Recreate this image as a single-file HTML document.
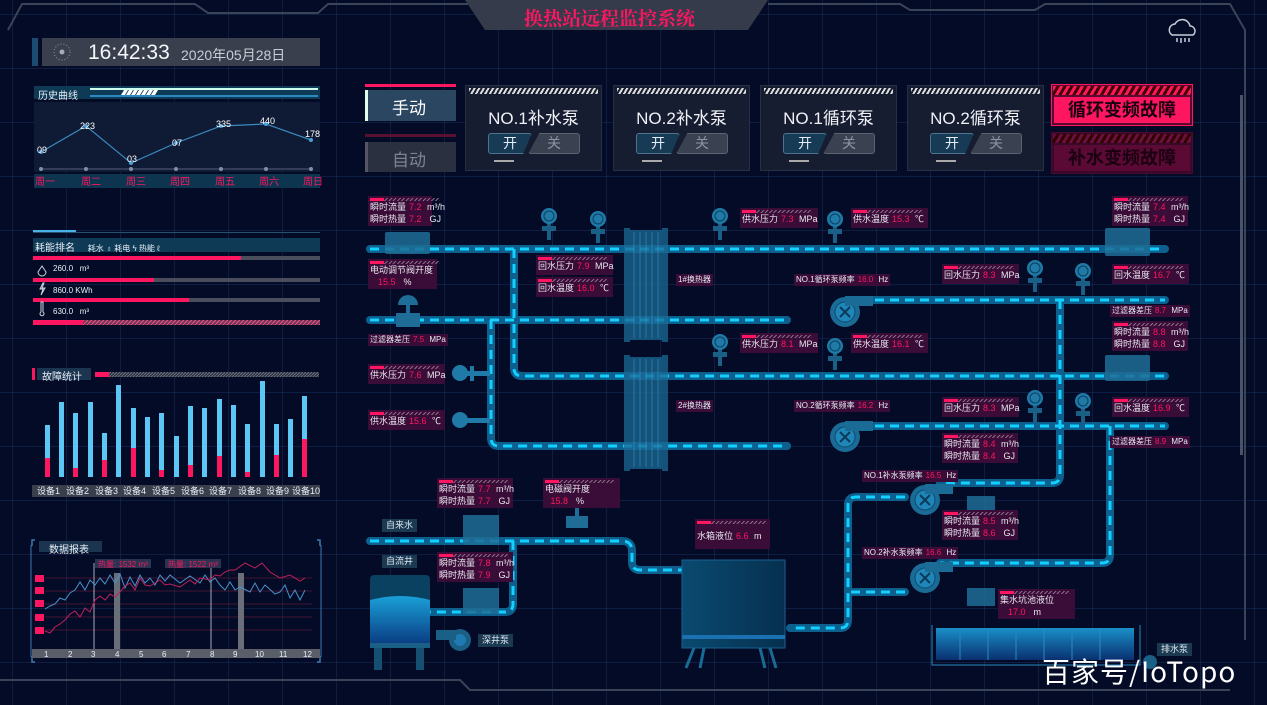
<!DOCTYPE html>
<html><head><meta charset="utf-8"><style>
*{margin:0;padding:0;box-sizing:border-box}
body{width:1267px;height:705px;overflow:hidden;background:#030b26;font-family:"Liberation Sans","Noto Sans CJK SC",sans-serif;color:#e6ecf5;position:relative}
.grid{position:absolute;inset:0;background-image:linear-gradient(rgba(40,80,140,.28) 1px,transparent 1px),linear-gradient(90deg,rgba(40,80,140,.28) 1px,transparent 1px);background-size:54px 54px;background-position:12px 14px}
svg{position:absolute;left:0;top:0}
.lb{position:absolute;background:#3a0c38;font-size:9px;line-height:12px;padding:5px 2px 0 2px;white-space:nowrap;color:#e8e8f0}
.lb:before{content:"";position:absolute;left:2px;top:2px;width:70px;height:3px;background:repeating-linear-gradient(135deg,#8a6a86 0 1px,transparent 1px 3px)}
.lb:after{content:"";position:absolute;left:2px;top:2px;width:14px;height:3px;background:#ff1660}
.lb b{color:#ff1660;font-weight:normal;margin:0 3px}
.nb{position:absolute;background:#3a0c38;font-size:8px;line-height:12px;padding:0 2px;white-space:nowrap}
.nb b{color:#ff1660;font-weight:normal;margin:0 3px}
.tag{position:absolute;background:#1b3a52;font-size:9px;line-height:13px;padding:0 4px;color:#dfe8f0}
.card{position:absolute;top:85px;width:137px;height:86px;background:#161d31;border:1px solid #262f44}
.card .st{position:absolute;left:3px;top:2px;right:3px;height:6px;background:repeating-linear-gradient(120deg,#ddd 0 2px,transparent 2px 4px)}
.card .nm{position:absolute;top:18px;width:100%;text-align:center;font-size:17px;color:#f0f0f5}
.card .on{position:absolute;left:22px;top:47px;width:44px;height:21px;background:#173a55;border:1px solid #4d7390;border-radius:3px;font-size:14px;text-align:center;line-height:19px;clip-path:polygon(0 0,100% 0,80% 100%,0 100%)}
.card .off{position:absolute;left:62px;top:47px;width:52px;height:21px;background:#3a4252;border:1px solid #5a6272;border-radius:3px;font-size:14px;text-align:center;line-height:19px;color:#8d95a5;clip-path:polygon(22% 0,100% 0,100% 100%,0 100%)}
.card .ul{position:absolute;left:28px;top:74px;width:20px;height:2px;background:#aaa}
.hd{position:absolute;font-size:10px;color:#e8eef5}
</style></head><body>
<div class="grid"></div>
<svg width="1267" height="705" viewBox="0 0 1267 705">
<defs>
<linearGradient id="tank" x1="0" y1="0" x2="1" y2="0"><stop offset="0" stop-color="#0a4a70"/><stop offset="1" stop-color="#063050"/></linearGradient>
<linearGradient id="lt" x1="0" y1="0" x2="0" y2="1"><stop offset="0" stop-color="#1aa0d8"/><stop offset="1" stop-color="#0a3a80"/></linearGradient>
<linearGradient id="sump" x1="0" y1="0" x2="0" y2="1"><stop offset="0" stop-color="#1a8fc8"/><stop offset="1" stop-color="#0a3070"/></linearGradient>
<pattern id="hatch" width="4" height="4" patternUnits="userSpaceOnUse"><rect width="4" height="4" fill="#6a3a58"/><path d="M0 4L4 0" stroke="#ff4a80"/></pattern>
<pattern id="hatch2" width="3" height="3" patternUnits="userSpaceOnUse"><rect width="3" height="3" fill="#2a3040"/><path d="M0 3L3 0" stroke="#6a7080"/></pattern>
<g id="gauge"><rect x="-2" y="0" width="4" height="24" fill="#1a5f85"/><rect x="-7" y="10" width="14" height="5" fill="#1a5f85"/><circle r="8" fill="#1f7aa8"/><circle r="5" fill="none" stroke="#0d3f60" stroke-width="1"/></g>
<g id="pump"><circle r="15" fill="#1a6b96"/><circle r="10" fill="#1e86b8" stroke="#0e4a70"/><path d="M-5 -5L5 5M5 -5L-5 5" stroke="#0c3a58" stroke-width="2"/><rect x="0" y="-16" width="28" height="10" fill="#1a6b96"/></g>
</defs>
<g fill="none" stroke="#3a4458" stroke-width="2">
<path d="M8 30 L22 4 L195 4 L208 13 L318 13 L328 4 L468 4"/>
<path d="M768 4 L900 4 L910 10 L1035 10 L1045 4 L1230 4 L1245 30 L1245 640"/>
<path d="M0 680 L460 680 L470 690 L1230 690"/>
</g>
<path d="M465 0 L768 0 L748 30 L485 30 Z" fill="#363b4c"/>
<rect x="1240" y="95" width="3" height="360" fill="#4a5468"/>
<g fill="none" stroke="#c8d0dc" stroke-width="1.5"><path d="M1172 35 a6 6 0 0 1 3 -11 a8 8 0 0 1 15 2 a5 5 0 0 1 3 9 Z"/><path d="M1177 38v4M1181 38v5M1185 38v4M1189 38v4"/></g>
<rect x="32" y="38" width="6" height="28" fill="#1b4a72"/>
<rect x="42" y="38" width="278" height="28" fill="#3a3f4e"/>
<circle cx="62" cy="52" r="8" fill="none" stroke="#8a92a0" stroke-dasharray="1 2"/><circle cx="62" cy="52" r="2.5" fill="#aab"/>
<rect x="34" y="86" width="286" height="13" fill="#0e3a56"/>
<rect x="90" y="88" width="228" height="2" fill="#cfe"/><rect x="90" y="95" width="228" height="2" fill="#2a8ac0"/>
<path d="M124 90h4l-3 5h-4zM129 90h4l-3 5h-4zM134 90h4l-3 5h-4zM139 90h4l-3 5h-4zM144 90h4l-3 5h-4zM149 90h4l-3 5h-4zM154 90h4l-3 5h-4z" fill="#fff"/>
<rect x="34" y="102" width="286" height="70" fill="#0f1a34"/>
<line x1="41" y1="169" x2="311" y2="169" stroke="#55607a" stroke-width="1"/>
<g fill="#8090a8"><circle cx="41" cy="169" r="2"/><circle cx="86" cy="169" r="2"/><circle cx="131" cy="169" r="2"/><circle cx="176" cy="169" r="2"/><circle cx="221" cy="169" r="2"/><circle cx="266" cy="169" r="2"/><circle cx="311" cy="169" r="2"/></g>
<polyline points="41,152 86,126 131,163 176,143 221,126 266,124 311,140" fill="none" stroke="#3a8ac0" stroke-width="1.2"/>
<g fill="#4aa0d8"><circle cx="41" cy="152" r="2"/><circle cx="86" cy="126" r="2"/><circle cx="131" cy="163" r="2"/><circle cx="176" cy="143" r="2"/><circle cx="221" cy="126" r="2"/><circle cx="266" cy="124" r="2"/><circle cx="311" cy="140" r="2"/></g>
<g fill="#fff" font-size="9" font-family="Liberation Sans"><text x="37" y="153">09</text><text x="80" y="129">223</text><text x="127" y="162">03</text><text x="172" y="146">07</text><text x="216" y="127">335</text><text x="260" y="124">440</text><text x="305" y="137">178</text></g>
<rect x="34" y="174" width="286" height="14" fill="#0e3550"/>
<g fill="#ff1660" font-size="10"><text x="35" y="185">周一</text><text x="81" y="185">周二</text><text x="126" y="185">周三</text><text x="170" y="185">周四</text><text x="215" y="185">周五</text><text x="259" y="185">周六</text><text x="303" y="185">周日</text></g>
<rect x="33" y="230" width="43" height="3" fill="#4ab0e8"/><rect x="33" y="232" width="287" height="1" fill="#26506e"/>
<rect x="33" y="238" width="287" height="14" fill="#0e3a56"/>
<rect x="33" y="256" width="287" height="4" fill="#4a4e5c"/><rect x="33" y="256" width="208" height="4" fill="#ff1660"/>
<rect x="33" y="278" width="287" height="4" fill="#4a4e5c"/><rect x="33" y="278" width="121" height="4" fill="#ff1660"/>
<rect x="33" y="298" width="287" height="4" fill="#4a4e5c"/><rect x="33" y="298" width="156" height="4" fill="#ff1660"/>
<rect x="33" y="320" width="287" height="5" fill="url(#hatch)"/>
<rect x="33" y="320" width="50" height="5" fill="#ff1660"/>
<g fill="none" stroke="#cfd6e0"><path d="M42 266 l-4 6 a4 4 0 0 0 8 0 z"/><path d="M43 283l-3 6h3l-2 6 4-7h-3l2-5z"/><path d="M41 302v10a2 2 0 1 0 2 0v-10z"/></g>
<rect x="32" y="368" width="3" height="12" fill="#ff1660"/><rect x="37" y="368" width="54" height="12" fill="#1b3450"/>
<rect x="95" y="372" width="14" height="5" fill="#ff1660"/><rect x="109" y="372" width="210" height="5" fill="url(#hatch2)"/>
<rect x="32" y="485" width="288" height="12" fill="#3a3f4e"/>
<g fill="#e8eef5" font-size="9"><text x="37" y="494">设备1</text><text x="66" y="494">设备2</text><text x="95" y="494">设备3</text><text x="123" y="494">设备4</text><text x="152" y="494">设备5</text><text x="181" y="494">设备6</text><text x="209" y="494">设备7</text><text x="238" y="494">设备8</text><text x="266" y="494">设备9</text><text x="292" y="494">设备10</text></g>
<path d="M32 546v-6h3M32 656v6h3M320 546v-6h-3M320 656v6h-3" fill="none" stroke="#3a7ab0" stroke-width="1.5"/>
<line x1="31" y1="545" x2="31" y2="657" stroke="#3a7ab0"/><line x1="321" y1="545" x2="321" y2="657" stroke="#3a7ab0"/>
<rect x="39" y="541" width="63" height="11" fill="#1b3450"/>
<g stroke="#5a1a3a" stroke-width=".8"><line x1="45" y1="578" x2="312" y2="578"/><line x1="45" y1="591" x2="312" y2="591"/><line x1="45" y1="604" x2="312" y2="604"/><line x1="45" y1="617" x2="312" y2="617"/><line x1="45" y1="630" x2="312" y2="630"/></g>
<g fill="#ff1660"><rect x="35" y="575" width="9" height="7"/><rect x="35" y="587" width="9" height="7"/><rect x="35" y="600" width="9" height="7"/><rect x="35" y="614" width="9" height="7"/><rect x="35" y="627" width="9" height="7"/></g>
<rect x="114" y="573" width="6" height="80" fill="#6a6e78"/><rect x="238" y="573" width="6" height="80" fill="#6a6e78"/>
<line x1="94" y1="563" x2="94" y2="650" stroke="#aab"/><line x1="211" y1="563" x2="211" y2="650" stroke="#aab"/>
<polyline fill="none" stroke="#4a90c8" stroke-width="1" points="45,609 50,606 55,604 60,598 65,600 70,593 75,590 80,582 85,590 90,580 95,585 100,578 105,584 110,575 115,583 120,574 125,588 130,577 135,586 140,575 145,583 150,578 155,585 160,575 165,581 170,575 180,583 190,576 200,583 205,575 210,582 215,578 220,585 225,590 230,582 235,590 240,587 250,592 255,583 260,592 265,585 275,594 280,592 285,585 290,598 295,590 300,600 305,590"/>
<polyline fill="none" stroke="#c0205a" stroke-width="1" points="45,631 50,633 55,627 60,624 65,620 70,614 75,611 80,617 85,608 90,612 95,600 100,596 105,600 110,594 115,597 120,592 125,586 130,583 135,590 140,578 145,585 150,586 155,583 160,580 165,585 170,584 180,587 190,580 195,584 200,578 210,580 215,575 220,576 225,572 230,570 235,570 245,563 255,568 262,563 270,572 280,578 290,575 300,581 305,578"/>
<rect x="32" y="649" width="288" height="9" fill="#5a5e68"/>
<g fill="#e8eef5" font-size="8"><text x="44" y="657">1</text><text x="68" y="657">2</text><text x="91" y="657">3</text><text x="115" y="657">4</text><text x="139" y="657">5</text><text x="162" y="657">6</text><text x="186" y="657">7</text><text x="210" y="657">8</text><text x="233" y="657">9</text><text x="255" y="657">10</text><text x="279" y="657">11</text><text x="303" y="657">12</text></g>
<rect x="95" y="559" width="56" height="9" fill="#2a3350"/><rect x="165" y="559" width="56" height="9" fill="#2a3350"/>
<g fill="#ff1660" font-size="8"><text x="98" y="567">热量: 1532 m³</text><text x="168" y="567">热量: 1522 m³</text></g>

<g fill="none" stroke="#0f6a9a" stroke-width="8" stroke-linecap="round" stroke-linejoin="round" opacity=".9">
<path d="M370 249H1165"/>
<path d="M370 320H787"/><path d="M860 300H1165"/>
<path d="M514 249V368q0 8 8 8H1165"/>
<path d="M491 320V438q0 8 8 8H787"/><path d="M860 426H1165"/>
<path d="M1060 300V475q0 8 -8 8H940"/>
<path d="M1110 426V555q0 8 -8 8H940"/>
<path d="M905 497H856q-8 0 -8 8V620q0 8 -8 8H790"/>
<path d="M905 592H848"/>
<path d="M370 541H622q10 0 10 10V562q0 8 8 8H682"/>
<path d="M513 541V604q0 8 -8 8H430"/>
</g>
<g fill="none" stroke="#12d0ff" stroke-width="3" stroke-dasharray="9 6">
<path d="M370 249H1165"/>
<path d="M370 320H787"/><path d="M860 300H1165"/>
<path d="M514 249V368q0 8 8 8H1165"/>
<path d="M491 320V438q0 8 8 8H787"/><path d="M860 426H1165"/>
<path d="M1060 300V475q0 8 -8 8H940"/>
<path d="M1110 426V555q0 8 -8 8H940"/>
<path d="M905 497H856q-8 0 -8 8V620q0 8 -8 8H790"/>
<path d="M905 592H848"/>
<path d="M370 541H622q10 0 10 10V562q0 8 8 8H682"/>
<path d="M513 541V604q0 8 -8 8H430"/>
</g>
<g fill="#1a6a96" opacity=".75">
<rect x="628" y="230" width="36" height="110"/><rect x="624" y="228" width="6" height="114"/><rect x="662" y="228" width="6" height="114"/>
<rect x="628" y="357" width="36" height="112"/><rect x="624" y="355" width="6" height="116"/><rect x="662" y="355" width="6" height="116"/>
</g>
<g stroke="#3fa0d0" stroke-width=".5" fill="none"><path d="M634 232V338M640 232V338M646 232V338M652 232V338M658 232V338M634 359V467M640 359V467M646 359V467M652 359V467M658 359V467"/></g>
<g fill="#1f6d96" opacity=".85">
<rect x="385" y="232" width="45" height="22" rx="2"/><rect x="1105" y="228" width="45" height="28" rx="2"/><rect x="1105" y="355" width="45" height="26" rx="2"/>
<rect x="463" y="515" width="36" height="30"/><rect x="463" y="588" width="36" height="26"/>
<rect x="967" y="496" width="28" height="22"/><rect x="967" y="588" width="28" height="18"/>
</g>
<use href="#gauge" x="549" y="216"/><use href="#gauge" x="598" y="219"/><use href="#gauge" x="720" y="216"/><use href="#gauge" x="835" y="219"/>
<use href="#gauge" x="1035" y="268"/><use href="#gauge" x="1083" y="271"/><use href="#gauge" x="720" y="342"/><use href="#gauge" x="835" y="346"/>
<use href="#gauge" x="1035" y="398"/><use href="#gauge" x="1083" y="401"/>
<g fill="#1f7aa8"><circle cx="460" cy="373" r="8"/><rect x="466" y="371" width="24" height="5"/><rect x="470" y="366" width="4" height="15"/><circle cx="460" cy="420" r="8"/><rect x="466" y="418" width="24" height="5"/></g>
<g fill="#1f6d96"><path d="M398 305a10 10 0 0 1 20 0z"/><rect x="406" y="305" width="4" height="8"/><rect x="396" y="313" width="24" height="14"/>
<path d="M568 508a9 9 0 0 1 18 0z"/><rect x="575" y="508" width="4" height="8"/><rect x="566" y="516" width="22" height="12"/></g>
<use href="#pump" x="845" y="312"/><use href="#pump" x="845" y="437"/><use href="#pump" x="925" y="500"/><use href="#pump" x="925" y="578"/>
<g><circle cx="460" cy="640" r="11" fill="#1a5f85"/><circle cx="460" cy="640" r="6" fill="#1e7ab0"/><rect x="436" y="630" width="20" height="10" fill="#1a5f85"/></g>
<rect x="370" y="575" width="60" height="70" rx="4" fill="#0a4060"/>
<path d="M370 600q30 -8 60 0v45h-60z" fill="url(#lt)"/>
<rect x="370" y="643" width="60" height="5" fill="#1a5f85"/><rect x="374" y="648" width="8" height="22" fill="#155072"/><rect x="416" y="648" width="8" height="22" fill="#155072"/>
<rect x="682" y="560" width="103" height="88" fill="url(#tank)" stroke="#1a6090"/>
<rect x="682" y="635" width="103" height="4" fill="#1a70b0"/>
<g stroke="#1a6a96" stroke-width="3" fill="none"><path d="M694 648l-8 20M704 648l-4 20M760 648l5 20M770 648l6 20"/></g>
<rect x="936" y="628" width="198" height="32" fill="url(#sump)"/>
<g stroke="#2a8ac0" fill="none"><path d="M932 625V665H1140V625M960 628V660M988 628V660M1016 628V660M1044 628V660M1072 628V660M1100 628V660"/></g>
<circle cx="1150" cy="662" r="7" fill="#1a5f85"/>
<g fill="#5cc6f4">
<rect x="45" y="425" width="5" height="52"/><rect x="59" y="402" width="5" height="75"/><rect x="73" y="413" width="5" height="64"/><rect x="88" y="402" width="5" height="75"/><rect x="102" y="433" width="5" height="44"/><rect x="116" y="385" width="5" height="92"/><rect x="131" y="408" width="5" height="69"/><rect x="145" y="417" width="5" height="60"/><rect x="159" y="413" width="5" height="64"/><rect x="174" y="436" width="5" height="41"/><rect x="188" y="406" width="5" height="71"/><rect x="202" y="408" width="5" height="69"/><rect x="217" y="399" width="5" height="78"/><rect x="231" y="405" width="5" height="72"/><rect x="245" y="424" width="5" height="53"/><rect x="260" y="381" width="5" height="96"/><rect x="274" y="424" width="5" height="53"/><rect x="288" y="419" width="5" height="58"/><rect x="302" y="396" width="5" height="81"/>
</g>
<g fill="#ff1660">
<rect x="45" y="458" width="5" height="19"/><rect x="73" y="468" width="5" height="9"/><rect x="102" y="460" width="5" height="17"/><rect x="131" y="448" width="5" height="29"/><rect x="159" y="470" width="5" height="7"/><rect x="188" y="465" width="5" height="12"/><rect x="217" y="456" width="5" height="21"/><rect x="245" y="472" width="5" height="5"/><rect x="274" y="455" width="5" height="22"/><rect x="302" y="439" width="5" height="38"/>
</g>
</svg>

<div style="position:absolute;left:88px;top:41px;font-size:21px;color:#f4f6fa">16:42:33</div>
<div style="position:absolute;left:181px;top:45px;font-size:14px;color:#c8ccd6">2020年05月28日</div>
<div class="hd" style="left:38px;top:87px">历史曲线</div>
<div class="hd" style="left:35px;top:239px;font-size:10px">耗能排名 <span style="font-size:8px;margin-left:10px">耗水 ♁ 耗电 ϟ 热能 ℓ</span></div>
<div class="hd" style="left:53px;top:264px;font-size:8px">260.0 &nbsp; m³</div>
<div class="hd" style="left:53px;top:286px;font-size:8px">860.0 KWh</div>
<div class="hd" style="left:53px;top:307px;font-size:8px">630.0 &nbsp; m³</div>
<div class="hd" style="left:42px;top:368px">故障统计</div>
<div class="hd" style="left:49px;top:541px">数据报表</div>
<div style="position:absolute;left:524px;top:4px;font-size:19px;font-weight:bold;color:#ff1660;font-family:'Liberation Serif','Noto Serif CJK SC',serif">换热站远程监控系统</div>

<div style="position:absolute;left:365px;top:84px;width:91px;height:3px;background:#ff1660"></div>
<div style="position:absolute;left:365px;top:90px;width:91px;height:31px;background:#2a4660;border-left:3px solid #dfe"></div>
<div style="position:absolute;left:392px;top:94px;font-size:17px;color:#fff">手动</div>
<div style="position:absolute;left:365px;top:134px;width:91px;height:3px;background:#5a1030"></div>
<div style="position:absolute;left:365px;top:142px;width:91px;height:30px;background:#2a3040;border-left:3px solid #556"></div>
<div style="position:absolute;left:392px;top:146px;font-size:17px;color:#7c8494">自动</div>

<div class="card" style="left:465px"><div class="st"></div><div class="nm">NO.1补水泵</div><div class="on">开</div><div class="off">关</div><div class="ul"></div></div>
<div class="card" style="left:613px"><div class="st"></div><div class="nm">NO.2补水泵</div><div class="on">开</div><div class="off">关</div><div class="ul"></div></div>
<div class="card" style="left:760px"><div class="st"></div><div class="nm">NO.1循环泵</div><div class="on">开</div><div class="off">关</div><div class="ul"></div></div>
<div class="card" style="left:907px"><div class="st"></div><div class="nm">NO.2循环泵</div><div class="on">开</div><div class="off">关</div><div class="ul"></div></div>

<div style="position:absolute;left:1051px;top:84px;width:142px;height:42px;background:#5a0a30;border:1px solid #ff1660"></div>
<div style="position:absolute;left:1053px;top:86px;width:138px;height:9px;background:repeating-linear-gradient(120deg,#ff1660 0 3px,#400 3px 6px)"></div>
<div style="position:absolute;left:1054px;top:97px;width:136px;height:26px;background:#ff1660;color:#1a0010;font-size:18px;font-weight:bold;text-align:center;line-height:26px">循环变频故障</div>
<div style="position:absolute;left:1051px;top:132px;width:142px;height:42px;background:#3a0828;border:1px solid #4a0a30"></div>
<div style="position:absolute;left:1053px;top:134px;width:138px;height:9px;background:repeating-linear-gradient(120deg,#6a1040 0 3px,#300 3px 6px)"></div>
<div style="position:absolute;left:1054px;top:145px;width:136px;height:26px;background:#5a0a34;color:#1a0010;font-size:18px;font-weight:bold;text-align:center;line-height:26px">补水变频故障</div>

<div class="lb" style="left:368px;top:196px;width:64px;height:30px">瞬时流量<b>7.2</b> m³/h<br>瞬时热量<b>7.2</b> &nbsp;GJ</div>
<div class="lb" style="left:368px;top:259px;width:69px;height:30px">电动调节阀开度<br>&nbsp;&nbsp;<b>15.5</b> &nbsp;%</div>
<div class="nb" style="left:368px;top:334px">过滤器差压<b>7.5</b> MPa</div>
<div class="lb" style="left:368px;top:364px;width:77px;height:20px">供水压力<b>7.6</b> MPa</div>
<div class="lb" style="left:368px;top:410px;width:77px;height:20px">供水温度<b>15.6</b> ℃</div>
<div class="lb" style="left:536px;top:255px;width:77px;height:20px">回水压力<b>7.9</b> MPa</div>
<div class="lb" style="left:536px;top:277px;width:77px;height:20px">回水温度<b>16.0</b> ℃</div>
<div class="nb" style="left:676px;top:274px">1#换热器</div>
<div class="lb" style="left:740px;top:208px;width:78px;height:20px">供水压力<b>7.3</b> MPa</div>
<div class="lb" style="left:851px;top:208px;width:77px;height:20px">供水温度<b>15.3</b> ℃</div>
<div class="lb" style="left:1112px;top:196px;width:76px;height:30px">瞬时流量<b>7.4</b> m³/h<br>瞬时热量<b>7.4</b> &nbsp;GJ</div>
<div class="nb" style="left:794px;top:274px">NO.1循环泵频率<b>16.0</b> Hz</div>
<div class="lb" style="left:942px;top:264px;width:77px;height:20px">回水压力<b>8.3</b> MPa</div>
<div class="lb" style="left:1112px;top:264px;width:77px;height:20px">回水温度<b>16.7</b> ℃</div>
<div class="nb" style="left:1110px;top:305px">过滤器差压<b>8.7</b> MPa</div>
<div class="lb" style="left:1112px;top:321px;width:76px;height:30px">瞬时流量<b>8.8</b> m³/h<br>瞬时热量<b>8.8</b> &nbsp;GJ</div>
<div class="lb" style="left:740px;top:333px;width:78px;height:20px">供水压力<b>8.1</b> MPa</div>
<div class="lb" style="left:851px;top:333px;width:77px;height:20px">供水温度<b>16.1</b> ℃</div>
<div class="nb" style="left:676px;top:400px">2#换热器</div>
<div class="nb" style="left:794px;top:400px">NO.2循环泵频率<b>16.2</b> Hz</div>
<div class="lb" style="left:942px;top:397px;width:77px;height:20px">回水压力<b>8.3</b> MPa</div>
<div class="lb" style="left:1112px;top:397px;width:77px;height:20px">回水温度<b>16.9</b> ℃</div>
<div class="nb" style="left:1110px;top:436px">过滤器差压<b>8.9</b> MPa</div>
<div class="lb" style="left:942px;top:433px;width:76px;height:30px">瞬时流量<b>8.4</b> m³/h<br>瞬时热量<b>8.4</b> &nbsp;GJ</div>
<div class="nb" style="left:862px;top:470px">NO.1补水泵频率<b>16.5</b> Hz</div>
<div class="lb" style="left:942px;top:510px;width:76px;height:30px">瞬时流量<b>8.5</b> m³/h<br>瞬时热量<b>8.6</b> &nbsp;GJ</div>
<div class="nb" style="left:862px;top:547px">NO.2补水泵频率<b>16.6</b> Hz</div>
<div class="lb" style="left:998px;top:589px;width:77px;height:30px">集水坑池液位<br>&nbsp;&nbsp;<b>17.0</b> &nbsp;m</div>
<div class="lb" style="left:695px;top:519px;width:75px;height:30px;padding-top:11px">水箱液位<b>6.6</b> m</div>
<div class="lb" style="left:437px;top:478px;width:76px;height:30px">瞬时流量<b>7.7</b> m³/h<br>瞬时热量<b>7.7</b> &nbsp;GJ</div>
<div class="lb" style="left:543px;top:478px;width:77px;height:30px">电磁阀开度<br>&nbsp;<b>15.8</b> &nbsp;%</div>
<div class="lb" style="left:437px;top:552px;width:76px;height:30px">瞬时流量<b>7.8</b> m³/h<br>瞬时热量<b>7.9</b> &nbsp;GJ</div>
<div class="tag" style="left:382px;top:519px">自来水</div>
<div class="tag" style="left:382px;top:555px">自流井</div>
<div class="tag" style="left:478px;top:634px">深井泵</div>
<div class="tag" style="left:1157px;top:643px">排水泵</div>

<div style="position:absolute;left:1042px;top:651px;font-size:28px;letter-spacing:1px;color:#fff;font-family:'Noto Sans CJK SC','Liberation Sans',sans-serif">百家号/IoTopo</div>
</body></html>
